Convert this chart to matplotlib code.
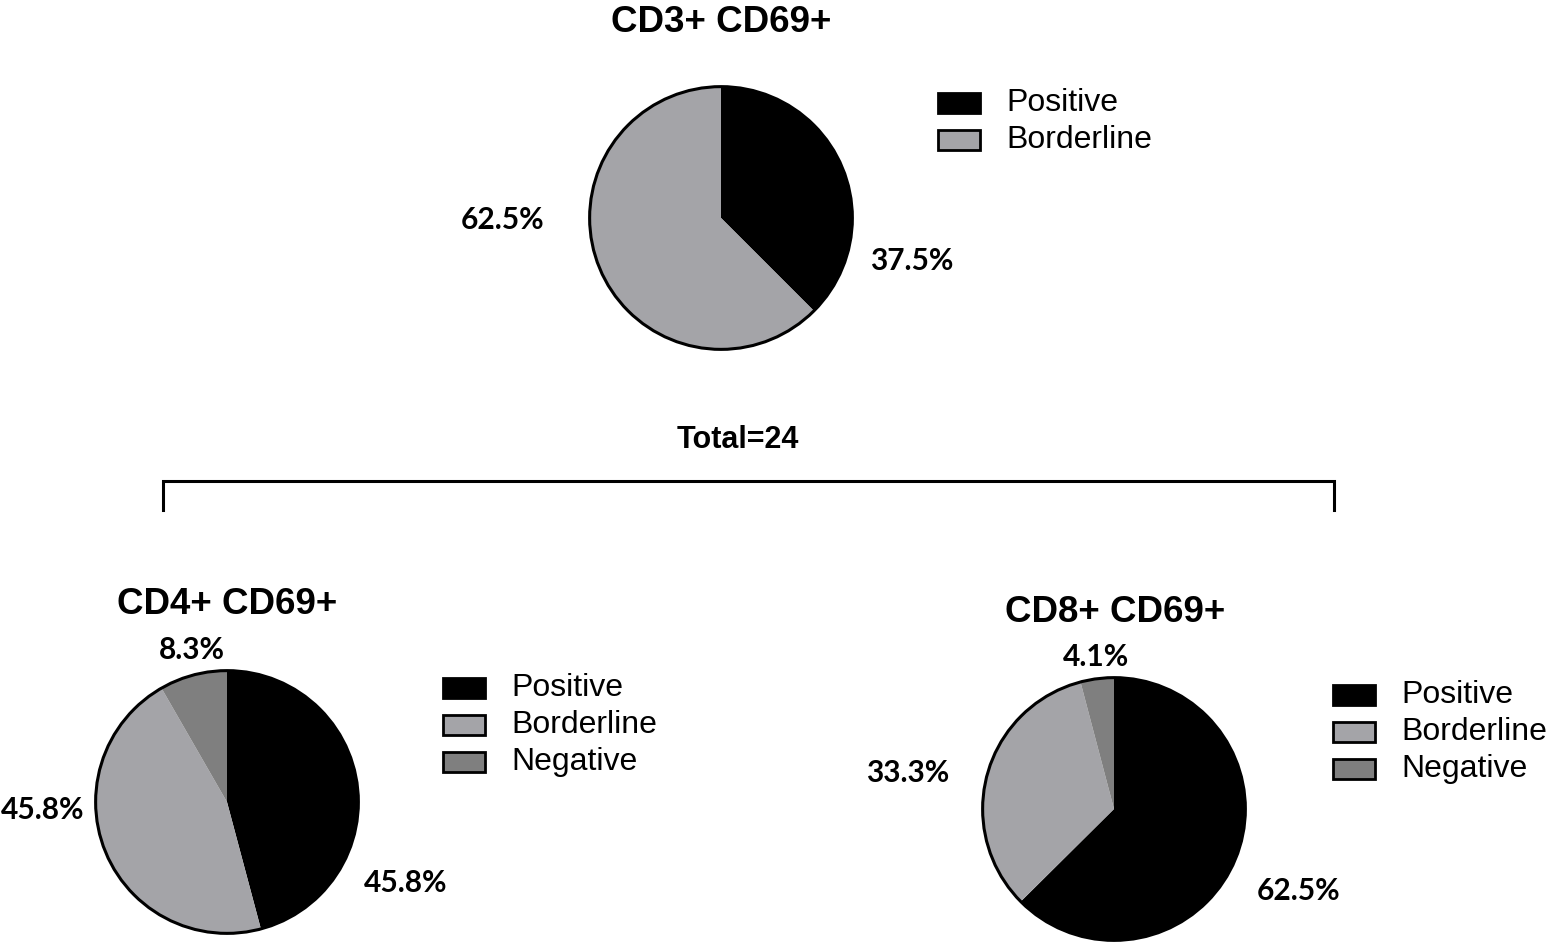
import matplotlib.pyplot as plt
from matplotlib.patches import Circle, Rectangle

# Data (percent of total)
total = 24
categories = ['Positive', 'Borderline', 'Negative']
cd3_values = [37.5, 62.5]
cd4_values = [45.8, 45.8, 8.3]
cd8_values = [62.5, 33.3, 4.1]

colors = ['#000000', '#a4a4a8', '#7f7f7f']

W, H = 1552, 948
fig = plt.figure(figsize=(W / 100, H / 100), dpi=100)

# overlay axes in pixel coordinates for text / bracket / legends
over = fig.add_axes([0, 0, 1, 1])
over.set_xlim(0, W)
over.set_ylim(H, 0)
over.axis('off')

label_font = dict(family=['Lato', 'DejaVu Sans'], fontweight='bold', fontsize=21.5)
title_font = dict(family=['Liberation Sans', 'DejaVu Sans'], fontweight='bold', fontsize=26.5)
legend_font = dict(family=['Liberation Sans', 'DejaVu Sans'], fontsize=23)


def draw_pie(values, cx, cy, r, title, title_xy, label_xy, legend_x, legend_y):
    ax = fig.add_axes([(cx - r) / W, 1 - (cy + r) / H, 2 * r / W, 2 * r / H])
    ax.pie(values, colors=colors[:len(values)], startangle=90, counterclock=False,
           wedgeprops=dict(linewidth=0))
    ax.set_aspect('auto')
    ax.set_xlim(-1.02, 1.02)
    ax.set_ylim(-1.02, 1.02)
    ax.add_patch(Circle((0, 0), 1, fill=False, edgecolor='black', linewidth=2.2))
    over.text(title_xy[0], title_xy[1], title, ha='center', va='center', **title_font)
    for v, (lx, ly) in zip(values, label_xy):
        over.text(lx, ly, '%.1f%%' % v, ha='center', va='center', **label_font)
    # legend
    for i in range(len(values)):
        y = legend_y + i * 37
        over.add_patch(Rectangle((legend_x, y - 10), 42, 20, facecolor=colors[i],
                                 edgecolor='black', linewidth=2))
        over.text(legend_x + 68, y, categories[i], ha='left', va='center', **legend_font)


draw_pie(cd3_values, 721, 218, 134, 'CD3+ CD69+', (721, 22),
         [(912, 261), (503, 220)], 938, 103)
draw_pie(cd4_values, 227, 802, 134, 'CD4+ CD69+', (227, 604),
         [(406, 883), (43, 810), (192, 650)], 443, 688)
draw_pie(cd8_values, 1114, 809, 134, 'CD8+ CD69+', (1115, 612),
         [(1299, 891), (908, 773), (1096, 657)], 1333, 695)

# bracket with total
over.plot([163, 163, 1334, 1334], [510, 481, 481, 510], color='black', linewidth=2.2,
          solid_joinstyle='miter')
over.text(738, 440, 'Total=%d' % total, ha='center', va='center',
          family=['Liberation Sans', 'DejaVu Sans'], fontweight='bold', fontsize=22)

fig.savefig('out.png', dpi=100)
